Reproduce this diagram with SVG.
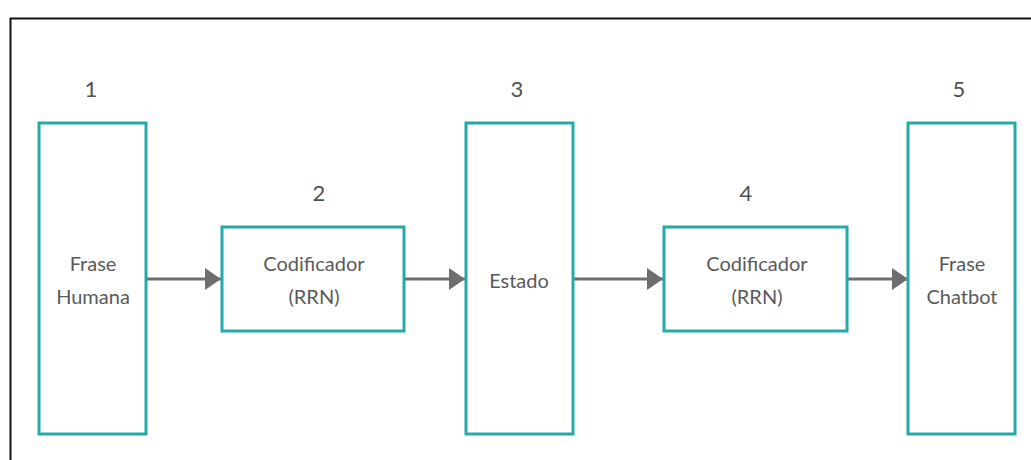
<svg xmlns="http://www.w3.org/2000/svg" width="1031" height="460" viewBox="0 0 1031 460">
  <defs>
    <style>
      .box { fill: #ffffff; stroke: #24aaa7; stroke-width: 3; }
      .lbl { font-family: Lato, "Liberation Sans", sans-serif; font-size: 20px; fill: #5a5a5a; text-anchor: middle; }
      .num { font-family: Lato, "Liberation Sans", sans-serif; font-size: 22px; fill: #505050; text-anchor: middle; }
      .edge { stroke: #6e6e6e; stroke-width: 3; fill: none; }
    </style>
    <marker id="arrow" markerUnits="userSpaceOnUse" markerWidth="16" markerHeight="22" refX="16" refY="11" orient="auto">
      <path d="M0,0 L16,11 L0,22 Z" fill="#6e6e6e"/>
    </marker>
  </defs>

  <rect width="1031" height="460" fill="#ffffff"/>
  <!-- outer frame (open on the right and bottom) -->
  <path d="M10.5,460 V18.5 H1031" fill="none" stroke="#111111" stroke-width="2"/>

  <g id="connectors">
    <line class="edge" x1="147" y1="279" x2="221" y2="279" marker-end="url(#arrow)"/>
    <line class="edge" x1="405" y1="279" x2="465" y2="279" marker-end="url(#arrow)"/>
    <line class="edge" x1="574" y1="279" x2="663" y2="279" marker-end="url(#arrow)"/>
    <line class="edge" x1="848" y1="279" x2="908" y2="279" marker-end="url(#arrow)"/>
  </g>

  <g id="node1">
    <text class="num" x="91" y="97">1</text>
    <rect class="box" x="39" y="123" width="107" height="311"/>
    <text class="lbl" x="93" y="271">Frase</text>
    <text class="lbl" x="93" y="304">Humana</text>
  </g>

  <g id="node2">
    <text class="num" x="319" y="201">2</text>
    <rect class="box" x="222" y="227" width="182" height="104"/>
    <text class="lbl" x="314" y="271">Codificador</text>
    <text class="lbl" x="314" y="304">(RRN)</text>
  </g>

  <g id="node3">
    <text class="num" x="517" y="97">3</text>
    <rect class="box" x="466" y="123" width="107" height="311"/>
    <text class="lbl" x="519" y="288">Estado</text>
  </g>

  <g id="node4">
    <text class="num" x="746" y="201">4</text>
    <rect class="box" x="664" y="227" width="183" height="104"/>
    <text class="lbl" x="757" y="271">Codificador</text>
    <text class="lbl" x="757" y="304">(RRN)</text>
  </g>

  <g id="node5">
    <text class="num" x="959" y="97">5</text>
    <rect class="box" x="908" y="123" width="107" height="311"/>
    <text class="lbl" x="962" y="271">Frase</text>
    <text class="lbl" x="962" y="304">Chatbot</text>
  </g>
</svg>
